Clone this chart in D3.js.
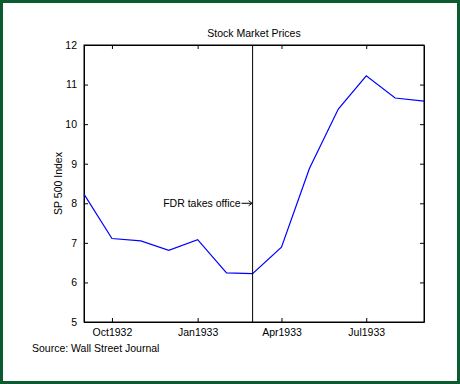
<!DOCTYPE html>
<html>
<head>
<meta charset="utf-8">
<script src="https://cdn.jsdelivr.net/npm/d3@7"></script>
<style>
  body { margin: 0; background: #fff; }
  svg text { font-family: "Liberation Sans", Arial, sans-serif; fill: #000; }
</style>
</head>
<body>
<div id="chart"></div>
<script>
// data, monthly SP 500 index
const months = ['1932-09', '1932-10', '1932-11', '1932-12', '1933-01', '1933-02', '1933-03',
  '1933-04', '1933-05', '1933-06', '1933-07', '1933-08', '1933-09']
const prices = [8.23, 7.11, 7.05, 6.81, 7.08, 6.24, 6.22, 6.89, 8.88, 10.38, 11.22, 10.66, 10.58]
const tickMonths = ['1932-10', '1933-01', '1933-04', '1933-07']
const yTicks = [5, 6, 7, 8, 9, 10, 11, 12]
const eventMonth = '1933-03'
const eventLabel = 'FDR takes office'
const eventY = 8

const width = 460,
  height = 384,
  plotLeft = 84,
  plotRight = 424,
  plotTop = 45,
  plotBottom = 322,
  fontSize = 10.5

const parse = d3.timeParse('%Y-%m')
const fmt = d3.timeFormat('%b%Y')

let data = months.map((m, i) => ({ date: parse(m), value: prices[i] }))

let svg = d3.select('#chart')
  .append('svg')
  .attr('width', width)
  .attr('height', height)

// green frame
svg.append('rect')
  .attr('x', 1.5).attr('y', 1.5)
  .attr('width', width - 3).attr('height', height - 3)
  .attr('fill', '#fff')
  .attr('stroke', '#0b5a30')
  .attr('stroke-width', 3)

const x = d3.scaleTime()
  .domain([parse('1932-09'), parse('1933-09')])
  .range([plotLeft, plotRight])

const y = d3.scaleLinear()
  .domain([5, 12])
  .range([plotBottom, plotTop])

// axes, ticks point inward
let tickVals = tickMonths.map(parse)

svg.append('g')
  .attr('transform', `translate(0, ${plotBottom})`)
  .call(d3.axisBottom(x).tickValues(tickVals).tickFormat(fmt).tickSizeInner(-4).tickSizeOuter(0).tickPadding(7))

svg.append('g')
  .attr('transform', `translate(0, ${plotTop})`)
  .call(d3.axisTop(x).tickValues(tickVals).tickFormat('').tickSizeInner(-4).tickSizeOuter(0))

svg.append('g')
  .attr('transform', `translate(${plotLeft}, 0)`)
  .call(d3.axisLeft(y).tickValues(yTicks).tickFormat(d3.format('d')).tickSizeInner(-4).tickSizeOuter(0).tickPadding(7))

svg.append('g')
  .attr('transform', `translate(${plotRight}, 0)`)
  .call(d3.axisRight(y).tickValues(yTicks).tickFormat('').tickSizeInner(-4).tickSizeOuter(0))

svg.selectAll('.domain').attr('stroke', '#000')
svg.selectAll('.tick line').attr('stroke', '#000')
svg.selectAll('.tick text')
  .attr('font-size', fontSize)
  .attr('font-family', '"Liberation Sans", Arial, sans-serif')

// box
svg.append('rect')
  .attr('x', plotLeft).attr('y', plotTop)
  .attr('width', plotRight - plotLeft).attr('height', plotBottom - plotTop)
  .attr('fill', 'none')
  .attr('stroke', '#000')

// the line
let line = d3.line()
  .x(d => x(d.date))
  .y(d => y(d.value))

svg.append('path')
  .datum(data)
  .attr('d', line)
  .attr('fill', 'none')
  .attr('stroke', '#0000ff')
  .attr('stroke-width', 1.2)

// FDR line
let ex = x(parse(eventMonth))
svg.append('line')
  .attr('x1', ex).attr('x2', ex)
  .attr('y1', plotTop).attr('y2', plotBottom)
  .attr('stroke', '#000')

let ey = y(eventY)
svg.append('text')
  .attr('x', ex - 12)
  .attr('y', ey + 4)
  .attr('text-anchor', 'end')
  .attr('font-size', fontSize)
  .text(eventLabel)

svg.append('line')
  .attr('x1', ex - 11).attr('x2', ex - 1)
  .attr('y1', ey).attr('y2', ey)
  .attr('stroke', '#000')
svg.append('path')
  .attr('d', `M${ex - 4},${ey - 2.5}L${ex - 0.5},${ey}L${ex - 4},${ey + 2.5}`)
  .attr('fill', 'none')
  .attr('stroke', '#000')

// labels
svg.append('text')
  .attr('x', (plotLeft + plotRight) / 2)
  .attr('y', 37)
  .attr('text-anchor', 'middle')
  .attr('font-size', fontSize)
  .text('Stock Market Prices')

svg.append('text')
  .attr('transform', `translate(62, ${(plotTop + plotBottom) / 2}) rotate(-90)`)
  .attr('text-anchor', 'middle')
  .attr('font-size', fontSize)
  .text('SP 500 Index')

svg.append('text')
  .attr('x', 32)
  .attr('y', 352)
  .attr('font-size', fontSize)
  .text('Source: Wall Street Journal')
</script>
</body>
</html>
